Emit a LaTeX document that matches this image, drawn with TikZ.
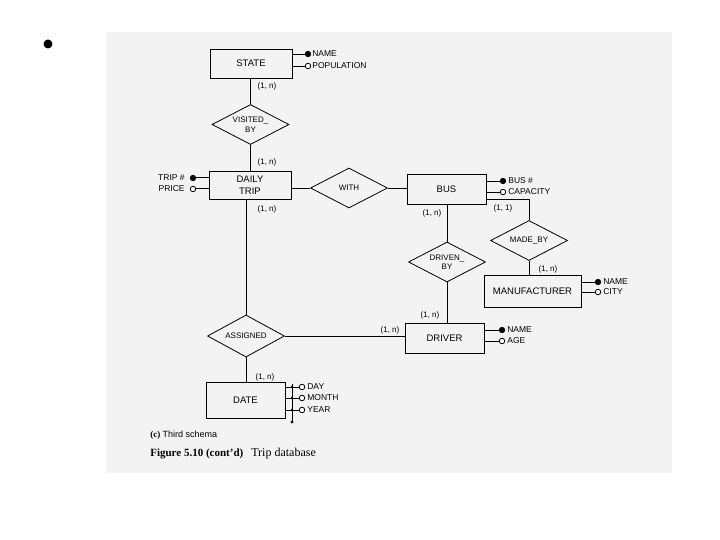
\documentclass[tikz,border=0pt]{standalone}
\usepackage{fontspec}
\setmainfont{Liberation Serif}
\setsansfont{Liberation Sans}
\usetikzlibrary{shapes.geometric}
\definecolor{scanbg}{RGB}{243,243,243}
\tikzset{
	entity/.style={draw, line width=0.9pt, font=\sffamily\fontsize{9.5}{11.5}\selectfont, align=center, inner sep=1pt},
	relship/.style={draw, line width=0.8pt, shape=diamond, aspect=2, minimum width=77pt, minimum height=40pt, inner sep=0pt, font=\sffamily\fontsize{8}{9.5}\selectfont, align=center},
	keyattr/.style={circle, draw, fill=black, inner sep=0pt, minimum size=5.5pt},
	attr/.style={circle, draw, fill=white, line width=0.8pt, inner sep=0pt, minimum size=5.5pt},
	card/.style={font=\sffamily\fontsize{8}{9}\selectfont, inner sep=0pt},
	attrname/.style={font=\sffamily\fontsize{8.5}{9}\selectfont, inner sep=0pt},
}
\begin{document}
\begin{tikzpicture}[x=1pt, y=-1pt, every path/.style={line width=0.7pt}]
			\useasboundingbox (0,0) rectangle (720,540);
			\fill[scanbg] (106,32) rectangle (672,473);
			\node[circle, fill=black, inner sep=0pt, minimum size=9pt] (bullet) at (48,44) {};

			\node[entity, minimum width=82pt, minimum height=29pt] (state) at (251,63.5) {STATE};
			\node[entity, minimum width=82pt, minimum height=28pt] (dtrip) at (250,185) {DAILY\\TRIP};
			\node[entity, minimum width=79pt, minimum height=30pt] (bus) at (446.5,189) {BUS};
			\node[entity, minimum width=97pt, minimum height=32pt] (manuf) at (532.5,291) {MANUFACTURER};
			\node[entity, minimum width=79pt, minimum height=30pt] (driver) at (444.5,338) {DRIVER};
			\node[entity, minimum width=79pt, minimum height=36pt] (date) at (245.5,400) {DATE};

			\node[relship] (visited) at (250.5,124.5) {VISITED\_\\BY};
			\node[relship] (with) at (349,188) {WITH};
			\node[relship] (drivenby) at (447,262) {DRIVEN\_\\BY};
			\node[relship] (madeby) at (529,240.5) {MADE\_BY};
			\node[relship, minimum height=42pt] (assigned) at (246,336) {ASSIGNED};

			\draw (state.south -| visited.north) -- (visited.north);
			\draw (visited.south) -- (visited.south |- dtrip.north);
			\draw (dtrip.east |- with.west) -- (with.west);
			\draw (with.east) -- (with.east -| bus.west);
			\draw (assigned.north |- dtrip.south) -- (assigned.north);
			\draw (assigned.south) -- (assigned.south |- date.north);
			\draw (assigned.east) -- (assigned.east -| driver.west);
			\draw (drivenby.north |- bus.south) -- (drivenby.north);
			\draw (drivenby.south) -- (drivenby.south |- driver.north);
			\draw ([yshift=5pt]bus.south east) -| (madeby.north);
			\draw (madeby.south) -- (madeby.south |- manuf.north);

			\node[card] (c1) at (267,86) {(1, n)};
			\node[card] (c2) at (267,162) {(1, n)};
			\node[card] (c3) at (267,209) {(1, n)};
			\node[card] (c4) at (432,213) {(1, n)};
			\node[card] (c5) at (503,208) {(1, 1)};
			\node[card] (c6) at (548,269) {(1, n)};
			\node[card] (c7) at (430,315) {(1, n)};
			\node[card] (c8) at (390,330) {(1, n)};
			\node[card] (c9) at (265,377) {(1, n)};

			\node[keyattr] (sname) at (308,54) {};
			\node[attr] (spop) at (308,66) {};
			\node[attrname, anchor=west] (snamet) at (312,54) {NAME};
			\node[attrname, anchor=west] (spopt) at (312,66) {POPULATION};
			\draw (state.east |- sname) -- (sname);
			\draw (state.east |- spop) -- (spop);

			\node[keyattr] (tnum) at (193,178) {};
			\node[attr] (tprice) at (193,189) {};
			\node[attrname, anchor=east] (tnumt) at (185,178) {TRIP \#};
			\node[attrname, anchor=east] (tpricet) at (185,189) {PRICE};
			\draw[line width=1pt] (dtrip.west |- tnum) -- (tnum);
			\draw[line width=1pt] (dtrip.west |- tprice) -- (tprice);

			\node[keyattr] (bnum) at (503,181) {};
			\node[attr] (bcap) at (503,192) {};
			\node[attrname, anchor=west] (bnumt) at (508,181) {BUS \#};
			\node[attrname, anchor=west] (bcapt) at (508,192) {CAPACITY};
			\draw (bus.east |- bnum) -- (bnum);
			\draw (bus.east |- bcap) -- (bcap);

			\node[keyattr] (mname) at (598,282) {};
			\node[attr] (mcity) at (598,292) {};
			\node[attrname, anchor=west] (mnamet) at (603,282) {NAME};
			\node[attrname, anchor=west] (mcityt) at (603,292) {CITY};
			\draw (manuf.east |- mname) -- (mname);
			\draw (manuf.east |- mcity) -- (mcity);

			\node[keyattr] (dname) at (502,330) {};
			\node[attr] (dage) at (502,341) {};
			\node[attrname, anchor=west] (dnamet) at (507,330) {NAME};
			\node[attrname, anchor=west] (daget) at (507,341) {AGE};
			\draw[line width=1pt] (driver.east |- dname) -- (dname);
			\draw[line width=1pt] (driver.east |- dage) -- (dage);

			\coordinate (gtop) at (292,384);
			\coordinate (gbot) at (292,422);
			\node[attr] (dday) at (302,387) {};
			\node[attr] (dmonth) at (302,398) {};
			\node[attr] (dyear) at (302,410) {};
			\node[attrname, anchor=west] (ddayt) at (307,387) {DAY};
			\node[attrname, anchor=west] (dmontht) at (307,398) {MONTH};
			\node[attrname, anchor=west] (dyeart) at (307,410) {YEAR};
			\draw (gtop) -- (gbot);
			\draw (date.east |- dday) -- (dday);
			\draw (date.east |- dmonth) -- (dmonth);
			\draw (date.east |- dyear) -- (dyear);
			\fill (gtop |- dday) circle (1.4pt);
			\fill (gtop |- dmonth) circle (1.4pt);
			\fill (gtop |- dyear) circle (1.4pt);
			\fill (gbot) circle (1.6pt);

			\node[anchor=west, inner sep=0pt] (cap1) at (150,435) {\fontsize{9}{10}\selectfont\textbf{(c)} \sffamily Third schema};
			\node[anchor=west, inner sep=0pt] (cap2) at (150,454) {\fontsize{11}{12}\selectfont\textbf{Figure 5.10 (cont'd)}\hspace{8pt}\fontsize{12}{13}\selectfont Trip database};
		\end{tikzpicture}
\end{document}
